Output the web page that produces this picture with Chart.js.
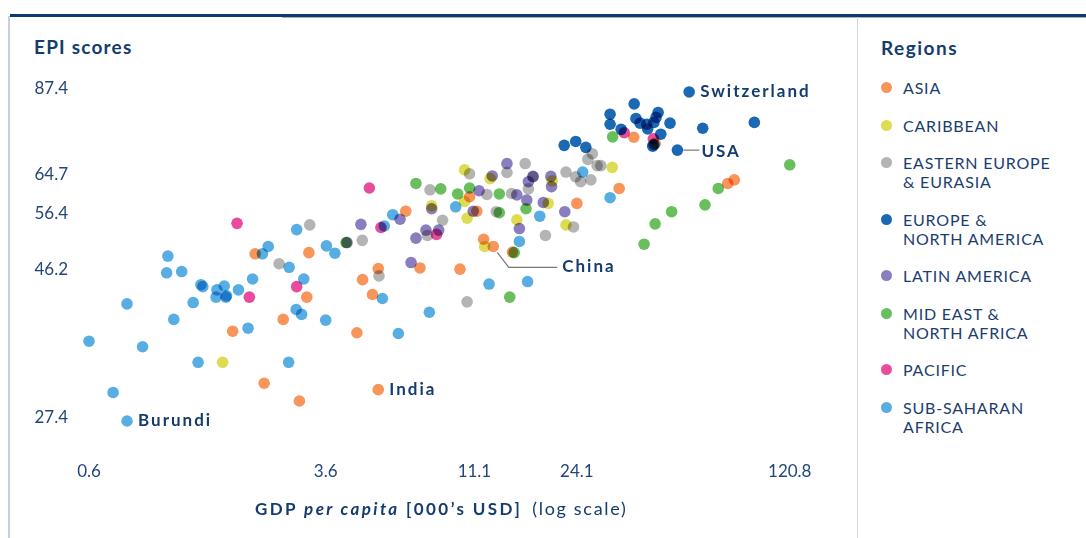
<!DOCTYPE html>
<html>
<head>
<meta charset="utf-8">
<script src="https://cdn.jsdelivr.net/npm/chart.js@4.4.1/dist/chart.umd.min.js"></script>
<style>
  body { margin: 0; width: 1086px; height: 538px; background: #fff; position: relative; overflow: hidden; font-family: Lato, sans-serif; color: #143c6e; }
  .rule-top { position: absolute; left: 10px; top: 14px; width: 1076px; height: 3px; background: #0b3b6c; }
  .rule-thin { position: absolute; left: 282px; top: 17px; width: 804px; height: 1px; background: #aab1c0; }
  .rule-left { position: absolute; left: 8px; top: 16px; width: 2px; height: 522px; background: #c9cfe2; }
  .rule-divider { position: absolute; left: 857px; top: 17px; width: 1px; height: 521px; background: #d3d7e4; }
  #epiChart { position: absolute; left: 0; top: 0; }
  .y-title { position: absolute; left: 34px; top: 37px; font-weight: 700; font-size: 19px; line-height: 20px; letter-spacing: 1.2px; }
  .x-title { position: absolute; left: 255px; top: 498px; font-size: 17px; line-height: 20px; white-space: nowrap; }
  .x-title b { letter-spacing: 2.4px; }
  .x-title .note { font-size: 18px; letter-spacing: 1.7px; margin-left: 10px; }
  .legend-title { position: absolute; left: 881px; top: 38px; font-weight: 700; font-size: 19px; line-height: 20px; letter-spacing: 1.5px; }
  #legendItems { position: absolute; left: 881px; top: 78px; }
  .item { display: flex; align-items: flex-start; margin-bottom: 18.5px; font-size: 16px; line-height: 19px; letter-spacing: 0.8px; color: #1b3d6f; }
  .item .dot { width: 11px; height: 11px; border-radius: 50%; margin-top: 4px; margin-right: 11px; flex: none; }
  .item .label { white-space: pre-line; }
</style>
</head>
<body>
<div class="rule-top"></div>
<div class="rule-thin"></div>
<div class="rule-left"></div>
<div class="rule-divider"></div>
<div class="y-title">EPI scores</div>
<canvas id="epiChart" width="858" height="538"></canvas>
<div class="x-title"><b>GDP <i>per capita</i> [000’s USD]</b><span class="note">(log scale)</span></div>
<div class="legend-title">Regions</div>
<div id="legendItems"></div>

<script>
// axis ticks
const xTicks = [0.6, 3.6, 11.1, 24.1, 120.8];
const yTicks = [27.4, 46.2, 56.4, 64.7, 87.4];

const regionNames = ['ASIA', 'CARIBBEAN', 'EASTERN EUROPE\n& EURASIA', 'EUROPE &\nNORTH AMERICA',
  'LATIN AMERICA', 'MID EAST &\nNORTH AFRICA', 'PACIFIC', 'SUB-SAHARAN\nAFRICA'];
const regionColors = ['#f7955b', '#dedc52', '#b4b4b4', '#1b69b3', '#8a7dc0', '#68bf5c', '#e84c9d', '#58aee2'];

// GDP per capita (000's USD) and EPI score, one pair of arrays per region
const asiaGdp = [2.11, 2.61, 1.78, 2.26, 2.95, 3.17, 3.12, 5.36, 6.60, 4.76, 5.36, 5.13, 7.35, 4.56, 9.95, 10.7, 11.3, 11.9, 12.8, 14.8, 24.1, 33.2, 37.1, 43.6, 75.5, 79.4];
const asiaEpi = [49.4, 39.2, 37.6, 31.3, 29.4, 49.6, 42.4, 30.6, 57.4, 45.1, 46.9, 42.8, 47.0, 37.4, 46.8, 60.4, 57.4, 52.0, 50.7, 49.7, 59.0, 62.2, 74.5, 72.9, 63.3, 64.1];

const caribGdp = [1.65, 8.03, 10.3, 10.3, 10.5, 12.5, 12.0, 15.3, 19.4, 20.0, 22.2, 31.5];
const caribEpi = [33.7, 58.5, 66.4, 59.4, 56.0, 64.4, 50.7, 55.7, 59.0, 63.9, 54.7, 67.0];

const eastEuGdp = [2.53, 3.19, 4.75, 5.39, 8.72, 7.78, 7.93, 10.7, 12.2, 10.5, 13.1, 14.2, 14.7, 16.3, 16.7, 17.3, 19.0, 23.5, 22.2, 23.9, 24.8, 26.8, 27.1, 26.2, 28.1, 28.9];
const eastEuEpi = [47.7, 54.7, 51.8, 45.7, 55.6, 52.7, 61.9, 65.5, 60.9, 41.7, 57.3, 65.8, 61.1, 67.9, 62.1, 64.8, 52.7, 54.3, 65.9, 64.8, 63.7, 64.1, 70.3, 68.9, 67.4, 67.4];

const euNaGdp = [56.4, 37.2, 31.0, 31.0, 37.7, 38.9, 44.6, 43.9, 43.2, 40.9, 41.2, 48.8, 62.5, 92.4, 45.5, 33.7, 42.8, 43.2, 51.6, 21.9, 23.9, 25.8];
const euNaEpi = [87.4, 83.8, 80.8, 78.0, 79.6, 78.3, 81.3, 79.9, 78.5, 78.0, 76.7, 78.3, 76.9, 78.5, 75.3, 76.6, 72.2, 72.6, 71.2, 72.4, 73.4, 71.9];

const latamGdp = [4.70, 6.32, 6.87, 7.13, 7.69, 8.47, 8.03, 11.5, 11.0, 12.7, 14.2, 15.3, 16.7, 17.3, 16.5, 15.6, 19.8, 19.9, 18.7, 22.0, 4.23];
const latamEpi = [54.8, 55.8, 47.9, 52.2, 53.7, 53.7, 57.9, 61.7, 57.4, 65.0, 67.9, 60.8, 63.7, 64.9, 59.7, 54.0, 64.9, 62.6, 59.2, 57.3, 51.4];

const menaGdp = [4.20, 7.13, 8.60, 9.78, 10.7, 13.4, 13.4, 16.4, 15.0, 14.5, 31.6, 120.8, 70.3, 63.6, 49.4, 43.6, 40.1];
const menaEpi = [51.4, 63.3, 62.1, 61.0, 62.3, 61.0, 57.1, 57.9, 49.6, 42.4, 74.6, 67.6, 62.2, 58.7, 57.3, 54.9, 51.1];

const pacificGdp = [1.84, 2.02, 2.89, 5.01, 5.47, 8.33, 34.5, 43.0];
const pacificEpi = [55.0, 42.4, 44.0, 62.3, 54.2, 52.9, 75.7, 74.1];

const ssaGdp = [0.60, 0.80, 0.72, 0.80, 0.90, 1.09, 1.08, 1.21, 1.14, 1.32, 1.37, 1.40, 1.42, 1.58, 1.67, 1.70, 1.57, 1.69, 1.86, 2.07, 2.00, 2.23, 2.33, 2.73, 2.89, 2.72, 2.88, 3.00, 3.05, 3.60, 3.62, 3.86, 5.53, 5.61, 5.98, 6.24, 7.89, 9.63, 12.4, 16.6, 15.6, 18.2, 25.2, 31.0];
const ssaEpi = [36.3, 27.4, 30.3, 41.4, 35.6, 49.0, 46.2, 46.4, 39.2, 41.6, 33.7, 44.3, 44.0, 43.5, 44.1, 42.6, 42.4, 42.4, 43.5, 45.2, 38.0, 49.4, 50.7, 47.1, 53.8, 33.7, 40.6, 39.9, 45.2, 39.1, 50.8, 49.5, 42.2, 54.5, 56.7, 37.3, 40.2, 58.3, 44.4, 44.8, 51.6, 56.4, 65.9, 60.2];

// named countries
const callouts = [
  { name: 'Switzerland', gdp: 56.4, epi: 87.4 },
  { name: 'USA', gdp: 51.6, epi: 71.2 },
  { name: 'China', gdp: 12.8, epi: 50.7 },
  { name: 'India', gdp: 5.36, epi: 30.6 },
  { name: 'Burundi', gdp: 0.80, epi: 27.4 }
];

const seriesGdp = [asiaGdp, caribGdp, eastEuGdp, euNaGdp, latamGdp, menaGdp, pacificGdp, ssaGdp];
const seriesEpi = [asiaEpi, caribEpi, eastEuEpi, euNaEpi, latamEpi, menaEpi, pacificEpi, ssaEpi];

const navy = '#143c6e';
const tickColor = '#23467a';

// text offsets from each named point, plus leader lines
const calloutLayout = {
  Switzerland: { dx: 11, dy: 0 },
  USA: { dx: 24, dy: 1.5, line: [[6, 0], [22, 0]] },
  China: { dx: 69, dy: 20.5, line: [[4, 6], [15.5, 21], [64, 21]] },
  India: { dx: 11, dy: 0 },
  Burundi: { dx: 11, dy: 0 }
};

// overlapping dots darken each other
const multiplyDots = {
  id: 'multiplyDots',
  beforeDatasetsDraw(chart) {
    chart.ctx.save();
    chart.ctx.globalCompositeOperation = 'multiply';
  },
  afterDatasetsDraw(chart) {
    chart.ctx.restore();
  }
};

const calloutLabels = {
  id: 'calloutLabels',
  afterDraw(chart) {
    const { ctx, scales: { x, y } } = chart;
    ctx.save();
    ctx.font = 'bold 17px Lato';
    ctx.letterSpacing = '2px';
    ctx.fillStyle = navy;
    ctx.textBaseline = 'middle';
    ctx.strokeStyle = '#777';
    ctx.lineWidth = 1.2;
    callouts.forEach(c => {
      const px = x.getPixelForValue(c.gdp);
      const py = y.getPixelForValue(c.epi);
      const lay = calloutLayout[c.name];
      if (lay.line) {
        ctx.beginPath();
        lay.line.forEach(([dx, dy], i) => {
          if (i === 0) ctx.moveTo(px + dx, py + dy);
          else ctx.lineTo(px + dx, py + dy);
        });
        ctx.stroke();
      }
      ctx.fillText(c.name, px + lay.dx, py + lay.dy);
    });
    ctx.restore();
  }
};

Chart.defaults.font.family = 'Lato';

const datasets = regionNames.map((name, i) => ({
  label: name,
  data: seriesGdp[i].map((g, j) => ({ x: g, y: seriesEpi[i][j] })),
  backgroundColor: regionColors[i],
  borderWidth: 0,
  pointRadius: 5.8,
  clip: false
}));

const chart = new Chart(document.getElementById('epiChart').getContext('2d'), {
  type: 'scatter',
  data: { datasets },
  options: {
    responsive: false,
    animation: false,
    events: [],
    layout: { padding: { top: 68, right: 40, bottom: 0, left: 0 } },
    plugins: { legend: { display: false }, tooltip: { enabled: false } },
    scales: {
      x: {
        type: 'logarithmic',
        bounds: 'data',
        min: 0.552,
        max: 149.6,
        afterBuildTicks: scale => { scale.ticks = xTicks.map(v => ({ value: v })); },
        afterFit: scale => { scale.height = 91; },
        grid: { display: false, drawTicks: false },
        border: { display: false },
        ticks: {
          autoSkip: false,
          maxRotation: 0,
          padding: 14,
          color: tickColor,
          font: { size: 17 },
          callback: v => v.toFixed(1)
        }
      },
      y: {
        type: 'logarithmic',
        bounds: 'data',
        min: 25,
        max: 95.1,
        afterBuildTicks: scale => { scale.ticks = yTicks.map(v => ({ value: v })); },
        afterFit: scale => { scale.width = 78; },
        grid: { display: false, drawTicks: false },
        border: { display: false },
        ticks: {
          autoSkip: false,
          padding: 10,
          labelOffset: -3,
          color: tickColor,
          font: { size: 17 },
          callback: v => v.toFixed(1)
        }
      }
    }
  },
  plugins: [multiplyDots, calloutLabels]
});

// legend built from the chart's own datasets
const legendBox = document.getElementById('legendItems');
chart.data.datasets.forEach(ds => {
  const item = document.createElement('div');
  item.className = 'item';
  const dot = document.createElement('span');
  dot.className = 'dot';
  dot.style.background = ds.backgroundColor;
  const label = document.createElement('span');
  label.className = 'label';
  label.textContent = ds.label;
  item.appendChild(dot);
  item.appendChild(label);
  legendBox.appendChild(item);
});
</script>
</body>
</html>
